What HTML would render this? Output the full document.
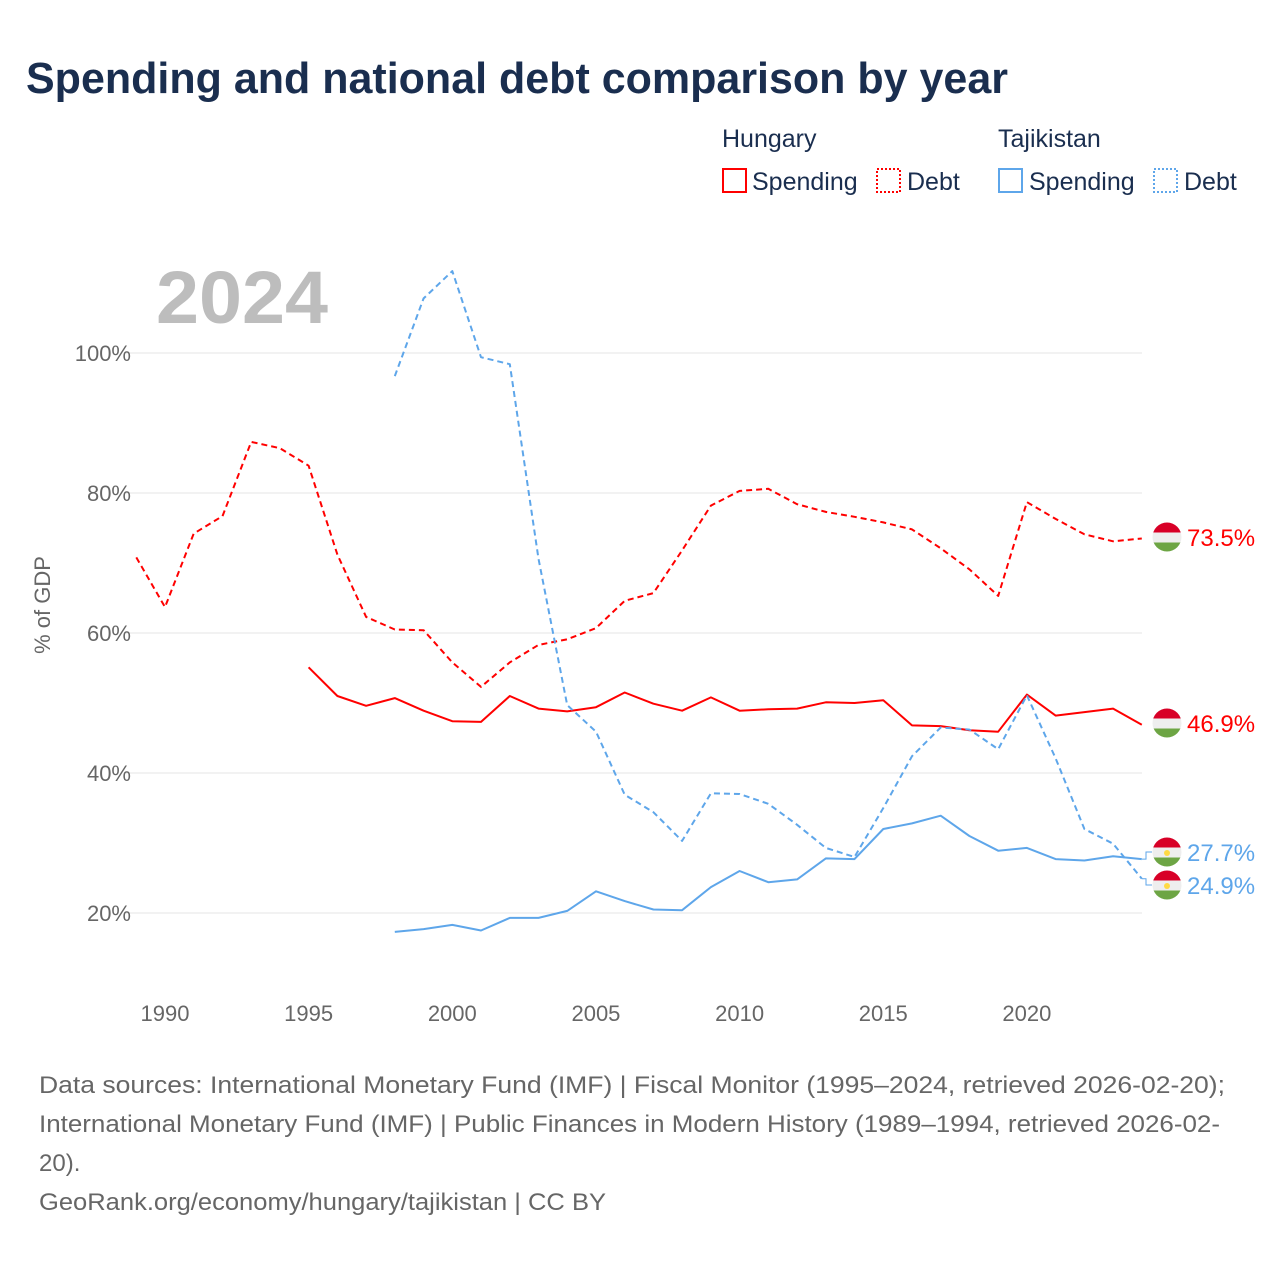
<!DOCTYPE html>
<html><head><meta charset="utf-8"><style>
body{margin:0;background:#fff;font-family:"Liberation Sans",sans-serif;}
#wrap{position:relative;width:1280px;height:1280px;overflow:hidden;}
</style></head><body>
<div id="wrap">
<svg id="chart" width="1280" height="1280" xmlns="http://www.w3.org/2000/svg">
<text x="26" y="93" font-size="44" font-weight="bold" fill="#1a2e4f" textLength="982" lengthAdjust="spacingAndGlyphs">Spending and national debt comparison by year</text>
<g font-size="25" fill="#1a2e4f">
<text x="722" y="147">Hungary</text>
<text x="998" y="147">Tajikistan</text>
<g><rect x="723" y="169" width="23" height="23" fill="none" stroke="#f00" stroke-width="2"/><text x="752" y="190">Spending</text></g>
<g><rect x="877" y="169" width="23" height="23" fill="none" stroke="#f00" stroke-width="2" stroke-dasharray="2,2"/><text x="907" y="190">Debt</text></g>
<g><rect x="999" y="169" width="23" height="23" fill="none" stroke="#5ea6ea" stroke-width="2"/><text x="1029" y="190">Spending</text></g>
<g><rect x="1154" y="169" width="23" height="23" fill="none" stroke="#5ea6ea" stroke-width="2" stroke-dasharray="2,2"/><text x="1184" y="190">Debt</text></g>
</g>
<text x="156" y="323" font-size="74" font-weight="bold" fill="#bdbdbd" textLength="172" lengthAdjust="spacingAndGlyphs">2024</text>
<text transform="translate(50,605) rotate(-90)" text-anchor="middle" font-size="22" fill="#666">% of GDP</text>
<g id="grid"></g><g id="ticks"></g><g id="lines"></g><g id="ends"></g>
<g font-size="24" fill="#666">
<text x="39" y="1093" textLength="1186" lengthAdjust="spacingAndGlyphs">Data sources: International Monetary Fund (IMF) | Fiscal Monitor (1995–2024, retrieved 2026-02-20);</text>
<text x="39" y="1132" textLength="1181" lengthAdjust="spacingAndGlyphs">International Monetary Fund (IMF) | Public Finances in Modern History (1989–1994, retrieved 2026-02-</text>
<text x="39" y="1171">20).</text>
<text x="39" y="1210" textLength="567" lengthAdjust="spacingAndGlyphs">GeoRank.org/economy/hungary/tajikistan | CC BY</text>
</g>
</svg>
</div>
<script>
const yTicks=[20,40,60,80,100];
const xTicks=[1990,1995,2000,2005,2010,2015,2020];
const huDebtYears=[1989,1990,1991,1992,1993,1994,1995,1996,1997,1998,1999,2000,2001,2002,2003,2004,2005,2006,2007,2008,2009,2010,2011,2012,2013,2014,2015,2016,2017,2018,2019,2020,2021,2022,2023,2024];
const huDebt=[70.8,63.7,74.2,76.7,87.3,86.4,83.9,71.2,62.3,60.5,60.4,55.8,52.3,55.8,58.3,59.1,60.7,64.6,65.7,71.8,78.2,80.3,80.6,78.4,77.3,76.6,75.8,74.8,72.1,69.1,65.3,78.7,76.3,74.1,73.1,73.5];
const huSpendYears=[1995,1996,1997,1998,1999,2000,2001,2002,2003,2004,2005,2006,2007,2008,2009,2010,2011,2012,2013,2014,2015,2016,2017,2018,2019,2020,2021,2022,2023,2024];
const huSpend=[55.1,51.0,49.6,50.7,48.9,47.4,47.3,51.0,49.2,48.8,49.4,51.5,49.9,48.9,50.8,48.9,49.1,49.2,50.1,50.0,50.4,46.8,46.7,46.1,45.9,51.2,48.2,48.7,49.2,46.9];
const tjYears=[1998,1999,2000,2001,2002,2003,2004,2005,2006,2007,2008,2009,2010,2011,2012,2013,2014,2015,2016,2017,2018,2019,2020,2021,2022,2023,2024];
const tjDebt=[96.7,107.8,111.7,99.4,98.4,70.6,49.7,45.9,36.9,34.4,30.3,37.1,37.0,35.6,32.6,29.3,28.0,35.0,42.4,46.5,46.2,43.4,51.1,42.1,32.0,29.9,24.9];
const tjSpend=[17.3,17.7,18.3,17.5,19.3,19.3,20.3,23.1,21.7,20.5,20.4,23.7,26.0,24.4,24.8,27.8,27.7,32.0,32.8,33.9,31.0,28.9,29.3,27.7,27.5,28.1,27.7];
const X=y=>165+(y-1990)*28.73;
const Y=v=>353+(100-v)*7;
const NS="http://www.w3.org/2000/svg";
function mk(tag,attrs,parent){const e=document.createElementNS(NS,tag);for(const k in attrs)e.setAttribute(k,attrs[k]);parent.appendChild(e);return e;}
const grid=document.getElementById('grid'),ticks=document.getElementById('ticks'),lines=document.getElementById('lines'),ends=document.getElementById('ends');
yTicks.forEach(v=>{
 const l=mk('line',{x1:125,x2:1142,y1:Y(v),y2:Y(v),stroke:'#e6e6e6','stroke-width':1},grid);
 
 
 const t=mk('text',{x:131,y:Y(v)+8,'text-anchor':'end','font-size':22,fill:'#666'},ticks);
 t.textContent=v+'%';
 
 
});
xTicks.forEach(v=>{
 const t=mk('text',{x:X(v),y:1021,'text-anchor':'middle','font-size':22,fill:'#666'},ticks);
 t.textContent=v;
 
 
});
function series(years,vals,color,dash,name){
 const d=years.map((y,i)=>(i?'L':'M')+X(y).toFixed(1)+','+Y(vals[i]).toFixed(1)).join(' ');
 const p=mk('path',{d:d,fill:'none',stroke:color,'stroke-width':2,'stroke-dasharray':dash?'6,4':'none','stroke-linejoin':'round'},lines);
 
 
}
series(huDebtYears,huDebt,'#ff0000',true,'hungary-debt-line');
series(huSpendYears,huSpend,'#ff0000',false,'hungary-spending-line');
series(tjYears,tjDebt,'#5ea6ea',true,'tajikistan-debt-line');
series(tjYears,tjSpend,'#5ea6ea',false,'tajikistan-spending-line');
function endLabel(val,ly,color,flag,name){
 const g=mk('g',{},ends);
 
 
 const vy=Y(val);
 if(Math.abs(vy-ly)>2) mk('path',{d:`M1142,${vy} L1146,${vy} L1146,${ly} L1152,${ly}`,fill:'none',stroke:color,'stroke-width':1},g);
 const cx=1167,r=14.5;
 const cid='c'+name;
 const cp=mk('clipPath',{id:cid},g);mk('circle',{cx:cx,cy:ly,r:r},cp);
 const fg=mk('g',{'clip-path':`url(#${cid})`},g);
 mk('rect',{x:cx-r,y:ly-r,width:2*r,height:10,fill:'#d80027'},fg);
 mk('rect',{x:cx-r,y:ly-r+10,width:2*r,height:10,fill:'#eee'},fg);
 mk('rect',{x:cx-r,y:ly-r+20,width:2*r,height:10,fill:'#6da544'},fg);
 if(flag==='tj') mk('circle',{cx:cx,cy:ly+1,r:3,fill:'#ffda44'},fg);
 const t=mk('text',{x:1187,y:ly+9,'font-size':24,fill:color},g);
 t.textContent=val.toFixed(1)+'%';
}
endLabel(huDebt[huDebt.length-1],537,'#ff0000','hu','end-label-hungary-debt');
endLabel(huSpend[huSpend.length-1],723,'#ff0000','hu','end-label-hungary-spending');
endLabel(tjSpend[tjSpend.length-1],852,'#5ea6ea','tj','end-label-tajikistan-spending');
endLabel(tjDebt[tjDebt.length-1],885,'#5ea6ea','tj','end-label-tajikistan-debt');
</script>
</body></html>
